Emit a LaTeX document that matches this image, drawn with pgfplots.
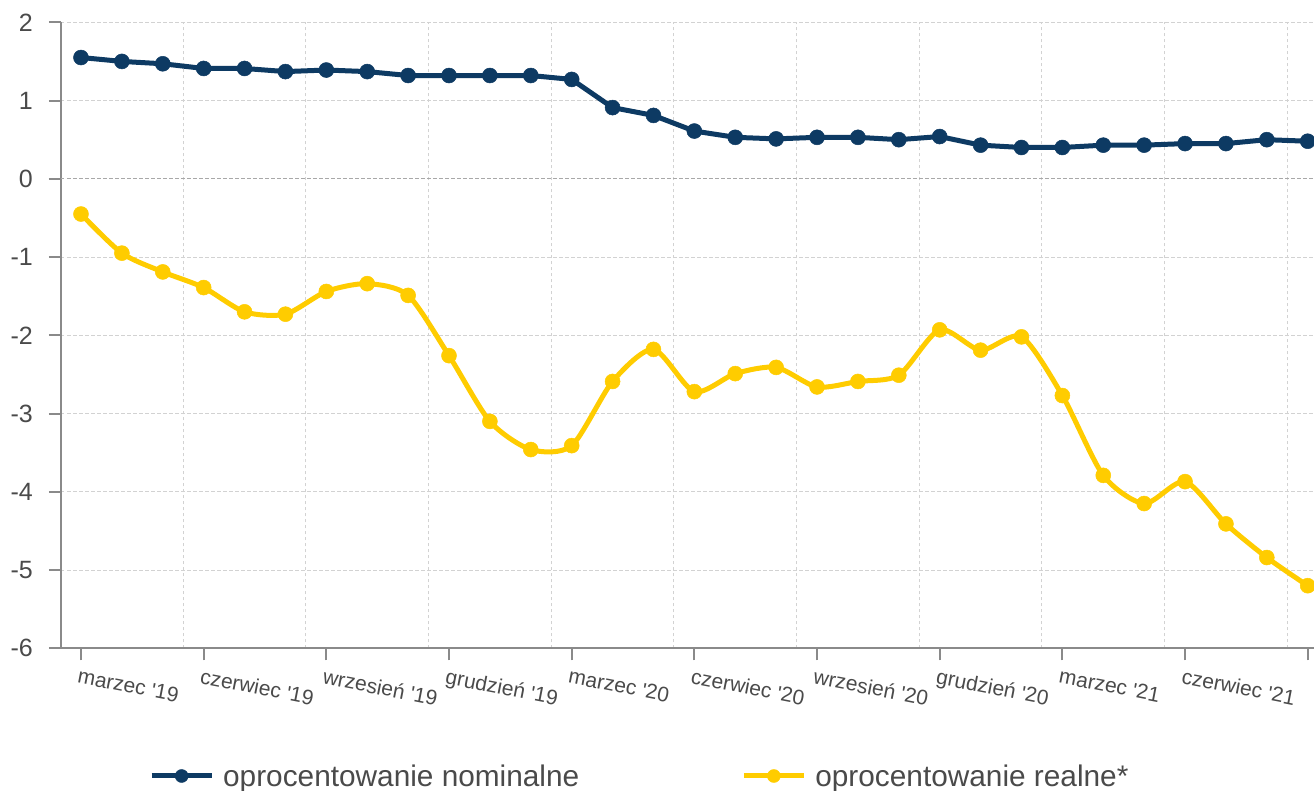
\documentclass[border=0pt]{standalone}
\usepackage{fontspec}
\setmainfont{Liberation Sans}[Ligatures=TeXOff]
\usepackage{pgfplots}
\pgfplotsset{compat=1.18}
\definecolor{navy}{HTML}{0D3A63}
\definecolor{gold}{HTML}{FFCC00}
\definecolor{axisgray}{HTML}{8A8A8A}
\definecolor{gridgray}{HTML}{D2D2D2}
\definecolor{zerogray}{HTML}{A8A8A8}
\definecolor{labelgray}{HTML}{4A4A4A}
\begin{document}
\begin{tikzpicture}
\useasboundingbox (0,0) rectangle (1314pt,791pt);
\begin{axis}[
  at={(61pt,142.7pt)}, anchor=south west,
  scale only axis, width=1253pt, height=626pt,
  xmin=-0.489, xmax=30.154, ymin=-6, ymax=2,
  axis x line*=bottom, axis y line*=left,
  axis line style={axisgray, line width=2pt, -},
  xtick={0,3,...,30},
  xticklabels={marzec '19, czerwiec '19, wrzesień '19, grudzień '19, marzec '20, czerwiec '20, wrzesień '20, grudzień '20, marzec '21, czerwiec '21, {}},
  minor xtick={2.5,5.5,...,29.5},
  xminorgrids=true, xmajorgrids=false,
  ytick={-6,...,2},
  yticklabels={-6,-5,-4,-3,-2,-1,0,1,2},
  ymajorgrids=true,
  major grid style={gridgray, line width=1pt, dash pattern=on 3.5pt off 2.5pt},
  minor grid style={gridgray, line width=1pt, dash pattern=on 3.5pt off 2.5pt},
  extra y ticks={0}, extra y tick labels={},
  extra y tick style={major grid style={zerogray, line width=1.2pt, dash pattern=on 3.5pt off 2.5pt}},
  tick align=outside,
  major tick length=12pt, minor tick length=0pt,
  tick style={axisgray, line width=2pt},
  xticklabel style={font=\fontsize{21}{25}\selectfont, text=labelgray, rotate=-11, anchor=north west, inner sep=0pt, xshift=0pt, yshift=-8pt},
  yticklabel style={font=\fontsize{25}{29}\selectfont, text=labelgray, anchor=east, inner sep=0pt, xshift=-16pt},
  clip mode=individual,
  legend columns=2,
  legend cell align=left,
  legend style={at={(0.0702,-0.204)}, anchor=west, draw=none, fill=none, inner sep=0pt,
    font=\fontsize{29.8}{36}\selectfont, text=labelgray,
    nodes={inner sep=0pt},
    /tikz/every odd column/.append style={column sep=9pt},
    /tikz/every even column/.append style={column sep=162pt}},
  legend image code/.code={\draw[#1, mark repeat=2, mark phase=2, mark size=6.5pt] plot coordinates {(0pt,0pt) (30pt,0pt) (60pt,0pt)};},
]
\addplot[navy, line width=5pt, line join=round, mark=*, mark size=7.5pt, mark options={solid, fill=navy, draw=navy, line width=0.5pt}] coordinates {
(0,1.55) (1,1.50) (2,1.47) (3,1.41) (4,1.41) (5,1.37) (6,1.39) (7,1.37) (8,1.32) (9,1.32)
(10,1.32) (11,1.32) (12,1.27) (13,0.91) (14,0.81) (15,0.61) (16,0.53) (17,0.51) (18,0.53) (19,0.53)
(20,0.50) (21,0.54) (22,0.43) (23,0.40) (24,0.40) (25,0.43) (26,0.43) (27,0.45) (28,0.45) (29,0.50) (30,0.48)
};
\addlegendentry{oprocentowanie nominalne}
\addplot[gold, line width=5pt, line join=round, smooth, tension=0.45, mark=*, mark size=7.5pt, mark options={solid, fill=gold, draw=gold, line width=0.5pt}] coordinates {
(0,-0.45) (1,-0.95) (2,-1.19) (3,-1.39) (4,-1.70) (5,-1.73) (6,-1.44) (7,-1.34) (8,-1.49) (9,-2.26)
(10,-3.10) (11,-3.46) (12,-3.41) (13,-2.59) (14,-2.18) (15,-2.72) (16,-2.49) (17,-2.41) (18,-2.66) (19,-2.59)
(20,-2.51) (21,-1.93) (22,-2.19) (23,-2.02) (24,-2.77) (25,-3.79) (26,-4.15) (27,-3.87) (28,-4.41) (29,-4.84) (30,-5.20)
};
\addlegendentry{oprocentowanie realne*}
\end{axis}
\end{tikzpicture}
\end{document}
